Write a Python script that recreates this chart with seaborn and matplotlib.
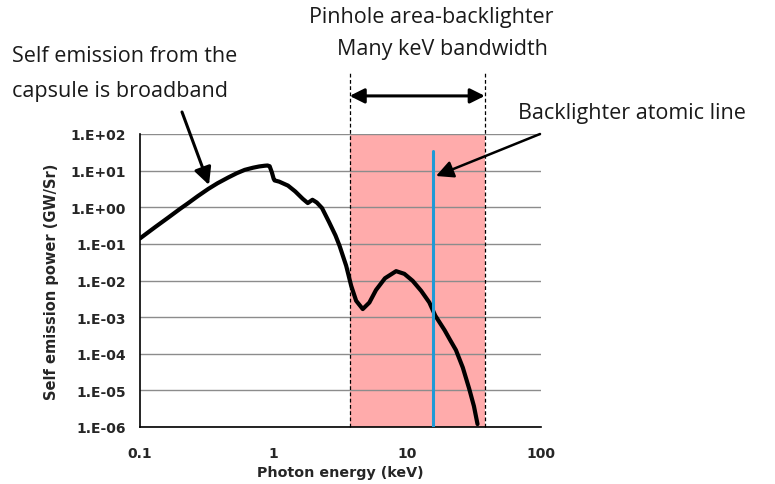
import numpy as np
import pandas as pd
import seaborn as sns
import matplotlib.pyplot as plt
from matplotlib.ticker import FixedLocator, NullLocator
import matplotlib.transforms as mtransforms

# --- data (photon energy in keV, power in GW/Sr) ---
energy_kev = [0.1, 0.13, 0.163, 0.2, 0.229, 0.27, 0.324, 0.38, 0.456, 0.53,
              0.608, 0.7, 0.78, 0.857, 0.9, 0.933, 0.97, 1.0, 1.016, 1.1,
              1.28, 1.45, 1.65, 1.8, 1.95, 2.1, 2.3, 2.6, 2.9, 3.11,
              3.49, 3.8, 4.14, 4.64, 5.2, 5.83, 6.8, 8.24, 9.5, 10.96,
              12.7, 14.6, 16.2, 19.0, 21.0, 23.1, 26.0, 29.0, 31.5, 33.5]
power_gw_sr = [0.141, 0.288, 0.525, 0.912, 1.29, 2.0, 3.16, 4.52, 6.46, 8.51,
               10.5, 12.0, 13.0, 13.6, 13.8, 13.2, 8.9, 6.0, 5.4, 5.0,
               3.9, 2.7, 1.7, 1.3, 1.6, 1.35, 0.95, 0.39, 0.17, 0.089,
               0.025, 0.0072, 0.0028, 0.00166, 0.0025, 0.0055, 0.0115, 0.018, 0.0152, 0.0098,
               0.0052, 0.00252, 0.00109, 0.00044, 0.00023, 0.000126, 0.000042, 0.0000112, 0.0000037, 0.0000012]

band_low, band_high = 3.7, 38.0      # pinhole backlighter bandwidth (keV)
atomic_line_kev = 15.6
atomic_line_top = 34.0

y_ticks = [1e-6, 1e-5, 1e-4, 1e-3, 1e-2, 1e-1, 1e0, 1e1, 1e2]
y_ticklabels = ["1.E-06", "1.E-05", "1.E-04", "1.E-03", "1.E-02",
                "1.E-01", "1.E+00", "1.E+01", "1.E+02"]
x_ticks = [0.1, 1, 10, 100]
x_ticklabels = ["0.1", "1", "10", "100"]

df = pd.DataFrame({"energy": energy_kev, "power": power_gw_sr})

sns.set_style("white")
plt.rcParams["font.family"] = ["DejaVu Sans"]

fig = plt.figure(figsize=(7.75, 4.85), dpi=100)
ax = fig.add_axes([140 / 775, 1 - 428 / 485, 401 / 775, 293 / 485])

ax.set_xscale("log")
ax.set_yscale("log")
ax.set_xlim(0.1, 100)
ax.set_ylim(1e-6, 1e2)

# shaded bandwidth
ax.axvspan(band_low, band_high, ymin=0, ymax=1, color="#ffabab", lw=0, zorder=0)

# grid
ax.yaxis.set_major_locator(FixedLocator(y_ticks))
ax.yaxis.set_minor_locator(NullLocator())
ax.xaxis.set_major_locator(FixedLocator(x_ticks))
ax.xaxis.set_minor_locator(NullLocator())
ax.grid(axis="y", color="#8c8c8c", lw=1.0, zorder=1)
ax.grid(axis="x", visible=False)
ax.set_axisbelow(True)

sns.lineplot(data=df, x="energy", y="power", color="black", lw=3.0, ax=ax,
             zorder=3, sort=False)

# atomic line
ax.plot([atomic_line_kev, atomic_line_kev], [1e-6, atomic_line_top],
        color="#1f9ad6", lw=2.2, zorder=4)

# dashed band edges extend above the axes
trans = mtransforms.blended_transform_factory(ax.transData, ax.transAxes)
for xv in (band_low, band_high):
    ax.plot([xv, xv], [0, 1.215], transform=trans, color="black", lw=0.9,
            ls=(0, (3, 2)), clip_on=False, zorder=5)

# double arrow over the band
ax.annotate("", xy=(band_low, 1.13), xytext=(band_high, 1.13),
            xycoords=trans, textcoords=trans,
            arrowprops=dict(arrowstyle="<|-|>", color="black", lw=2.2,
                            mutation_scale=22, shrinkA=0, shrinkB=0))

ax.set_yticks(y_ticks)
ax.set_yticklabels(y_ticklabels, fontweight="bold", fontsize=10)
ax.set_xticks(x_ticks)
ax.set_xticklabels(x_ticklabels, fontweight="bold", fontsize=10)
ax.tick_params(axis="both", which="major", direction="out", length=6,
               width=1.2, color="black", pad=4)
ax.tick_params(axis="x", pad=8)

for side in ("top", "right"):
    ax.spines[side].set_visible(False)
for side in ("left", "bottom"):
    ax.spines[side].set_color("black")
    ax.spines[side].set_linewidth(1.2)

ax.set_xlabel("Photon energy (keV)", fontweight="bold", fontsize=10.3, labelpad=3)
ax.set_ylabel("Self emission power (GW/Sr)", fontweight="bold", fontsize=10.5,
              labelpad=8)

# annotations
txt = dict(fontsize=15.5, family=["Open Sans", "DejaVu Sans"], color="#1a1a1a",
           va="center")
fig.text(12 / 775, 1 - 57 / 485, "Self emission from the", ha="left", **txt)
fig.text(12 / 775, 1 - 91 / 485, "capsule is broadband", ha="left", **txt)
ax.annotate("", xy=(209, 485 - 186), xytext=(182, 485 - 113),
            xycoords="figure pixels", textcoords="figure pixels",
            arrowprops=dict(arrowstyle="-|>", color="black", lw=2.2,
                            mutation_scale=26, shrinkA=0, shrinkB=0))

fig.text(431 / 775, 1 - 18 / 485, "Pinhole area-backlighter", ha="center", **txt)
fig.text(442 / 775, 1 - 50 / 485, "Many keV bandwidth", ha="center", **txt)

fig.text(518 / 775, 1 - 113 / 485, "Backlighter atomic line", ha="left", **txt)
ax.annotate("", xy=(436, 485 - 177), xytext=(540, 485 - 135),
            xycoords="figure pixels", textcoords="figure pixels",
            arrowprops=dict(arrowstyle="-|>", color="black", lw=1.8,
                            mutation_scale=26, shrinkA=0, shrinkB=0))

fig.savefig("out.png", dpi=100)
